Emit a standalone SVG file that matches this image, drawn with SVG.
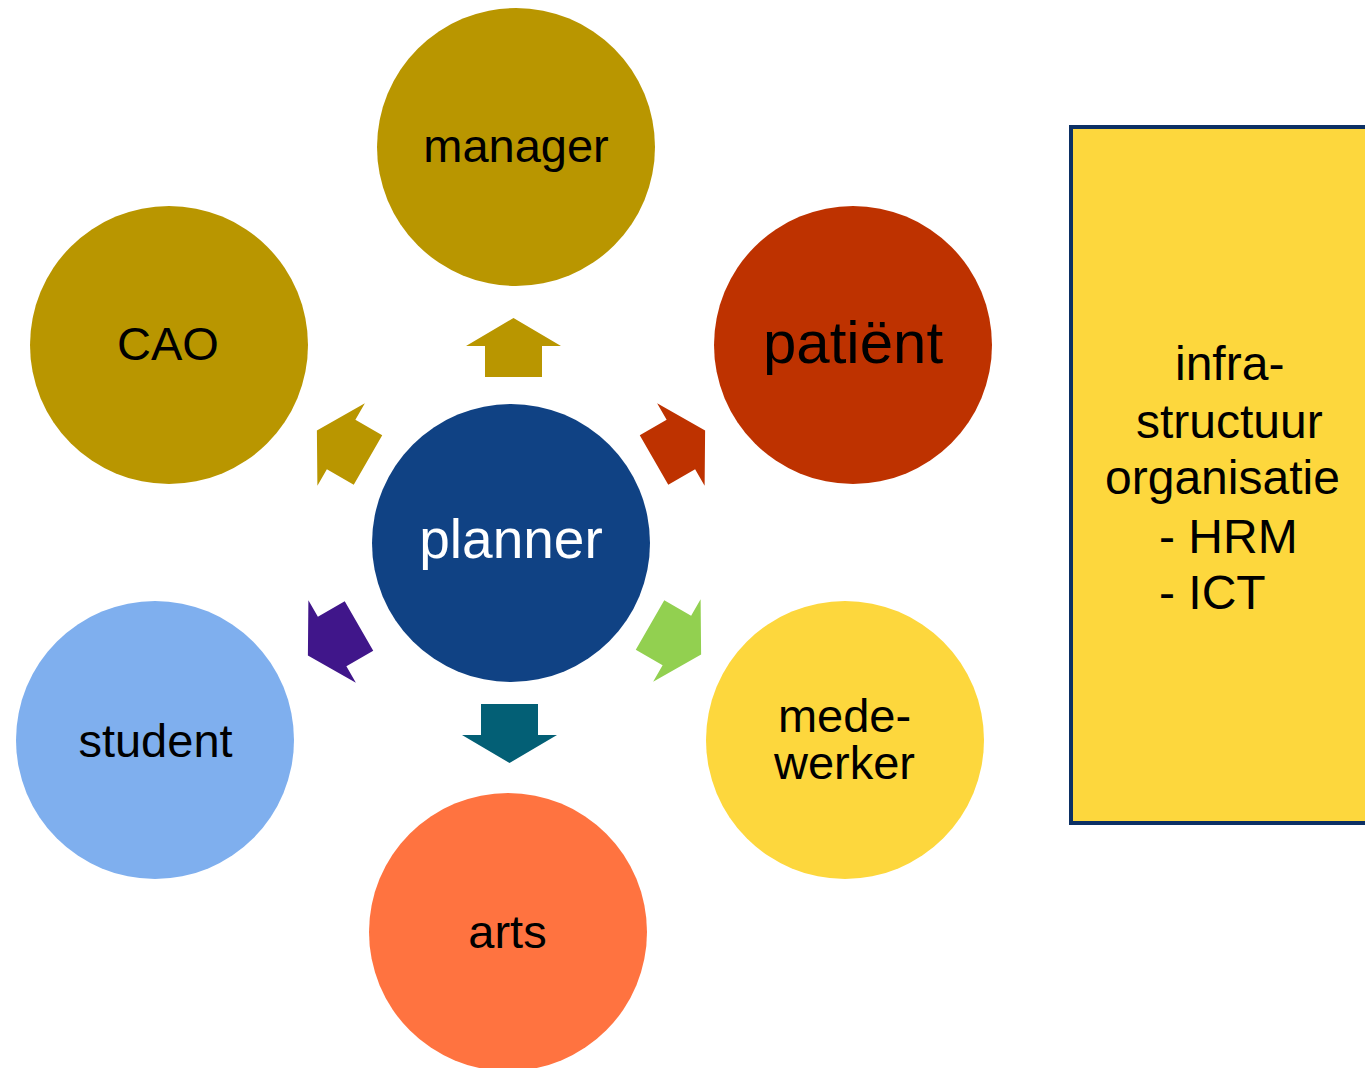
<svg xmlns="http://www.w3.org/2000/svg" width="1365" height="1068" viewBox="0 0 1365 1068">
<style>
text{font-family:"Liberation Sans",Arial,sans-serif;font-size:47px;fill:#000;text-anchor:middle}
.l{text-anchor:start;font-size:48px}
</style>
<defs>
<path id="arr" d="M0,-29 L47.5,-1 L28.5,-1 L28.5,30 L-28.5,30 L-28.5,-1 L-47.5,-1 Z"/>
</defs>
<rect width="1365" height="1068" fill="#fff"/>
<g id="connectors">
<use href="#arr" fill="#B99600" transform="translate(513.5,347)"/>
<use href="#arr" fill="#BE3200" transform="translate(680,445) rotate(60)"/>
<use href="#arr" fill="#92D050" transform="translate(676,640) rotate(120)"/>
<use href="#arr" fill="#035F75" transform="translate(509.5,734) rotate(180)"/>
<use href="#arr" fill="#40168A" transform="translate(333,641) rotate(240)"/>
<use href="#arr" fill="#B99600" transform="translate(342,445) rotate(300)"/>
</g>
<g id="manager"><circle cx="516" cy="147" r="139" fill="#B99600"/><text x="516" y="162">manager</text></g>
<g id="cao"><circle cx="169" cy="345" r="139" fill="#B99600"/><text x="168" y="360">CAO</text></g>
<g id="patient"><circle cx="853" cy="345" r="139" fill="#BE3200"/><text x="853" y="363" style="font-size:60px">patiënt</text></g>
<g id="planner"><circle cx="511" cy="543" r="139" fill="#104284"/><text x="511" y="558" style="font-size:55px;fill:#fff">planner</text></g>
<g id="student"><circle cx="155" cy="740" r="139" fill="#7FAFEE"/><text x="155.5" y="757">student</text></g>
<g id="medewerker"><circle cx="845" cy="740" r="139" fill="#FDD73D"/><text x="844.5" y="732">mede-<tspan x="844.5" dy="47">werker</tspan></text></g>
<g id="arts"><circle cx="508" cy="932" r="139" fill="#FF7340"/><text x="507.5" y="948">arts</text></g>
<g id="infra">
<rect x="1071" y="127" width="310" height="696" fill="#FDD73D" stroke="#0C3064" stroke-width="4"/>
<text class="l" x="1175" y="380">infra-</text>
<text class="l" x="1136" y="438">structuur</text>
<text class="l" x="1105" y="494">organisatie</text>
<text class="l" x="1159" y="553">- HRM</text>
<text class="l" x="1159" y="609">- ICT</text>
</g>
</svg>
